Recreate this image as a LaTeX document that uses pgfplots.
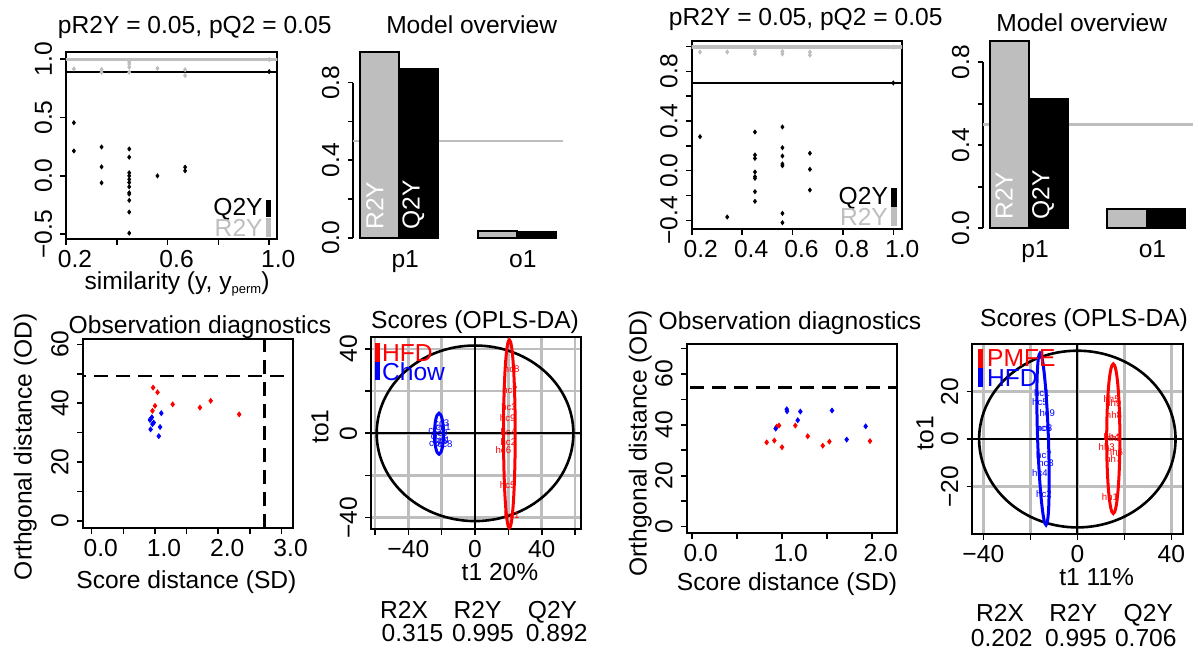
\documentclass[border=0pt]{standalone}
\usepackage{fontspec}
\setmainfont{Liberation Sans}
\usepackage{pgfplots}
\pgfplotsset{compat=1.18}
\usepackage{pgfplotstable}
\definecolor{rgray}{RGB}{190,190,190}
\definecolor{rred}{RGB}{255,0,0}
\definecolor{rblue}{RGB}{0,0,255}
\newcommand\fs{\fontsize{12.3}{14.8}\selectfont}
\newcommand\tfs{\fontsize{4.8}{5.5}\selectfont}
\tikzset{lbl/.style={inner sep=0pt}}

\pgfplotstableread{
x y
0.231 0.455
0.231 0.213
0.340 0.247
0.340 0.077
0.340 -0.060
0.449 0.230
0.449 0.160
0.449 0.026
0.449 0.000
0.449 -0.030
0.449 -0.057
0.449 -0.094
0.449 -0.145
0.449 -0.156
0.449 -0.210
0.449 -0.310
0.449 -0.490
0.560 0.000
0.669 0.074
0.669 0.043
1.000 0.892
}\permQa
\pgfplotstableread{
x y
0.231 0.915
0.340 0.910
0.340 0.886
0.449 0.975
0.449 0.957
0.449 0.930
0.449 0.886
0.560 0.920
0.669 0.909
0.669 0.858
1.000 0.995
}\permRa
\pgfplotstableread{
x y
0.233 0.274
0.341 -0.373
0.451 0.311
0.451 0.126
0.451 0.099
0.451 -0.011
0.451 -0.048
0.451 -0.062
0.451 -0.169
0.451 -0.247
0.560 0.352
0.560 0.185
0.560 0.118
0.560 0.054
0.560 0.040
0.560 -0.344
0.560 -0.419
0.669 0.140
0.669 0.011
0.669 -0.156
1.000 0.706
}\permQb
\pgfplotstableread{
x y
0.233 0.955
0.341 0.955
0.451 0.960
0.451 0.940
0.560 0.960
0.560 0.940
0.669 0.955
0.669 0.930
1.000 0.995
}\permRb
\pgfplotstableread{
x y
0.97 45.3
1.04 43.7
1.00 39.1
0.96 37.4
1.28 39.6
1.71 38.5
1.88 40.8
2.33 36.2
}\diagRa
\pgfplotstableread{
x y
0.93 34.6
0.95 35.2
0.92 34.3
0.98 33.4
0.96 32.9
0.93 31.1
1.10 36.6
1.08 31.9
1.06 28.8
}\diagBa
\pgfplotstableread{
x y
0.833 33.1
0.918 33.8
0.944 39.3
0.970 39.7
1.003 31.2
1.151 39.7
1.289 35.5
1.456 31.8
1.530 33.4
1.981 33.6
}\diagRb
\pgfplotstableread{
x y
0.933 38.5
1.056 46.1
1.059 45.3
1.178 41.8
1.207 45.2
1.559 45.6
1.722 34.2
1.933 39.4
}\diagBb
\pgfplotstableread{
x y lab
22 30.5 hc8
21 20.5 hc7
20.4 12.6 hc3
19.6 7.1 hc9
20 0.8 hc4
20 -4 hc2
17 -7.9 hc6
19.6 -24.5 hc5
22 -38.8 hc1
}\scoreRa
\pgfplotstableread{
x y lab
-20 4.7 cc3
-19 3 cc1
-23.5 1.6 cc2
-21 0 cc9
-22 -1.6 cc7
-20 -3.2 cc4
-23 -4.7 cc6
-18 -5 cc8
-21 -4 cc5
}\scoreBa
\pgfplotstableread{
x y lab
14.6 16.7 hh5
15.3 15 hh9
15.6 10.1 hh8
14.6 0.7 hh4
15.5 0.5 hh2
12.5 -3.2 hh3
16 -5.3 hh6
15.3 -8.5 hh7
13.9 -24.3 hh1
}\scoreRb
\pgfplotstableread{
x y lab
-15.1 19.2 hc1
-15.9 15.5 hc5
-12.8 11.1 hc9
-14.5 4.5 hc6
-14 4.5 hc8
-14.2 -6.7 hc7
-13.3 -10.2 hc3
-15.9 -14.4 hc4
-14.2 -23.3 hc2
}\scoreBb

\pgfplotsset{
  rbase/.style={
    scale only axis,
    anchor=north west,
    axis line style={line width=1.1pt},
    tick align=outside,
    tick pos=left,
    major tick length=2.8pt,
    every tick/.style={line width=0.8pt, black},
    yticklabel style={rotate=90, anchor=south, inner ysep=4pt},
    xticklabel style={yshift=1pt},
  },
  barbase/.style={
    scale only axis,
    anchor=north west,
    clip=false,
    axis y line*=left,
    axis x line*=bottom,
    x axis line style={draw=none},
    y axis line style={line width=1.1pt},
    major x tick style={draw=none},
    tick align=outside,
    major tick length=2.8pt,
    every tick/.style={line width=0.8pt, black},
    xtick={1,4}, xticklabels={p1,o1},
    xticklabel style={xshift=3pt},
    xmin=-0.17, xmax=5.18, ymin=0, ymax=0.8,
    ytick={0,0.2,0.4,0.6,0.8}, yticklabels={0.0,,0.4,,0.8},
    yticklabel style={rotate=90, anchor=south, inner ysep=4pt},
  },
  scorebase/.style={
    rbase,
    grid=major,
    grid style={rgray, line width=1.4pt},
  },
  samplelab/.style={only marks, mark=*, mark size=0.1pt, mark options={opacity=0},
    nodes near coords, point meta=explicit symbolic,
    every node near coord/.style={anchor=center, inner sep=0pt, opacity=1, text opacity=1, text=#1, font=\tfs}},
}

\begin{document}
\begin{tikzpicture}[font=\fs]
\useasboundingbox (0,0) rectangle (599pt,-325.5pt);

% ---------- Panel 1: permutation (left) ----------
\begin{axis}[rbase, at={(33pt,-26pt)}, width=105.65pt, height=93.65pt,
  xmin=0.2, xmax=1.032, ymin=-0.543, ymax=1.06,
  xtick={0.2,0.4,0.6,0.8,1.0}, xticklabels={0.2,,0.6,,1.0},
  xticklabel style={xshift=4.5pt},
  ytick={-0.5,0,0.5,1}, yticklabels={−0.5,0.0,0.5,1.0}]
\addplot[rgray, line width=1.7pt] coordinates {(0,0.995) (2,0.995)};
\addplot[black, line width=1.1pt] coordinates {(0,0.892) (2,0.892)};
\addplot[only marks, mark=diamond*, mark size=1pt, rgray] table {\permRa};
\addplot[only marks, mark=diamond*, mark size=1pt, black] table {\permQa};
\end{axis}
\node[lbl, anchor=base] at (97.35pt,-16.9pt) {pR2Y = 0.05, pQ2 = 0.05};
\node[lbl, anchor=base] at (88.5pt,-144.6pt) {similarity (y, y\raisebox{-0.35ex}{\fontsize{6.5}{7}\selectfont perm})};
\node[lbl, anchor=east] at (131.5pt,-104.5pt) {Q2Y};
\node[lbl, anchor=east, text=rgray] at (131.5pt,-114pt) {R2Y};
\fill[black] (132.85pt,-100pt) rectangle (135.35pt,-108.65pt);
\fill[rgray] (132.85pt,-109.15pt) rectangle (135.35pt,-118.35pt);

% ---------- Panel 2: model overview (left) ----------
\begin{axis}[barbase, at={(176.65pt,-41.35pt)}, width=104.9pt, height=77.5pt]
\addplot[rgray, line width=1.1pt] coordinates {(-0.17,0.5) (5.18,0.5)};
\addplot[ybar, bar width=1, bar shift=0pt, fill=rgray, draw=black, line width=0.9pt] coordinates {(0.5,0.960) (3.5,0.036)};
\addplot[ybar, bar width=1, bar shift=0pt, fill=black, draw=black, line width=0.9pt] coordinates {(1.5,0.871) (4.5,0.028)};
\node[lbl, rotate=90, anchor=west, text=white] at (axis cs:0.38,0.04) {R2Y};
\node[lbl, rotate=90, anchor=west, text=white] at (axis cs:1.36,0.04) {Q2Y};
\end{axis}
\node[lbl, anchor=base] at (235.85pt,-16.67pt) {Model overview};

% ---------- Panel 3: permutation (right) ----------
\begin{axis}[rbase, at={(345.85pt,-20.5pt)}, width=105.15pt, height=94.15pt,
  xmin=0.2, xmax=1.0345, ymin=-0.472, ymax=1.044,
  xtick={0.2,0.4,0.6,0.8,1.0}, xticklabels={0.2,0.4,0.6,0.8,1.0},
  xticklabel style={xshift=4.5pt},
  ytick={-0.4,-0.2,0,0.2,0.4,0.6,0.8,1.0}, yticklabels={−0.4,,0.0,,0.4,,0.8,}]
\addplot[rgray, line width=1.7pt] coordinates {(0,0.995) (2,0.995)};
\addplot[black, line width=1.1pt] coordinates {(0,0.706) (2,0.706)};
\addplot[only marks, mark=diamond*, mark size=1pt, rgray] table {\permRb};
\addplot[only marks, mark=diamond*, mark size=1pt, black] table {\permQb};
\end{axis}
\node[lbl, anchor=base] at (402.85pt,-13pt) {pR2Y = 0.05, pQ2 = 0.05};
\node[lbl, anchor=east] at (444.15pt,-99.15pt) {Q2Y};
\node[lbl, anchor=east, text=rgray] at (444.15pt,-108.35pt) {R2Y};
\fill[black] (445.35pt,-94.15pt) rectangle (448.65pt,-103.35pt);
\fill[rgray] (445.35pt,-103.35pt) rectangle (448.65pt,-113pt);

% ---------- Panel 4: model overview (right) ----------
\begin{axis}[barbase, at={(491.65pt,-31.15pt)}, width=104.65pt, height=83pt]
\addplot[rgray, line width=1.1pt] coordinates {(-0.17,0.5) (5.18,0.5)};
\addplot[ybar, bar width=1, bar shift=0pt, fill=rgray, draw=black, line width=0.9pt] coordinates {(0.5,0.904) (3.5,0.092)};
\addplot[ybar, bar width=1, bar shift=0pt, fill=black, draw=black, line width=0.9pt] coordinates {(1.5,0.623) (4.5,0.092)};
\node[lbl, rotate=90, anchor=west, text=white] at (axis cs:0.36,0.04) {R2Y};
\node[lbl, rotate=90, anchor=west, text=white] at (axis cs:1.36,0.04) {Q2Y};
\end{axis}
\node[lbl, anchor=base] at (540.85pt,-15.85pt) {Model overview};

% ---------- Panel 5: observation diagnostics (left) ----------
\begin{axis}[rbase, at={(41.35pt,-169.65pt)}, width=105.3pt, height=94.5pt,
  xmin=-0.142, xmax=3.185, ymin=-2.5, ymax=61.7,
  xtick={0,0.5,1,1.5,2,2.5,3}, xticklabels={0.0,,1.0,,2.0,,3.0},
  xticklabel style={xshift=4.5pt},
  ytick={0,10,20,30,40,50,60}, yticklabels={0,,20,,40,,60}]
\addplot[black, line width=1.2pt, dash pattern=on 7pt off 4pt] coordinates {(-1,49.3) (4,49.3)};
\addplot[black, line width=1.2pt, dash pattern=on 7pt off 4pt] coordinates {(2.73,-10) (2.73,100)};
\addplot[only marks, mark=diamond*, mark size=1.2pt, rred] table {\diagRa};
\addplot[only marks, mark=diamond*, mark size=1.2pt, rblue] table {\diagBa};
\end{axis}
\node[lbl, anchor=base] at (100pt,-166.65pt) {Observation diagnostics};
\node[lbl, anchor=base] at (93.2pt,-294.15pt) {Score distance (SD)};
\node[lbl, anchor=base, rotate=90] at (15.85pt,-223.35pt) {Orthgonal distance (OD)};

% ---------- Panel 6: scores (left) ----------
\begin{axis}[scorebase, at={(185.5pt,-168.65pt)}, width=104.85pt, height=96pt,
  xmin=-62.4, xmax=63.4, ymin=-45.5, ymax=45.5,
  xtick={-60,-40,-20,0,20,40,60}, xticklabels={,−40,,0,,40,},
  ytick={-40,-20,0,20,40}, yticklabels={−40,,0,,40}]
\addplot[black, line width=1.1pt] coordinates {(0,-100) (0,100)};
\addplot[black, line width=1.1pt] coordinates {(-100,0) (100,0)};
\draw[black, line width=1.3pt] (axis cs:0,0) ellipse [x radius=59, y radius=41.6];
\draw[rred, line width=1.5pt] (axis cs:20.6,-0.3) ellipse [x radius=3.5, y radius=44.6];
\draw[rblue, line width=1.5pt] (axis cs:-21.6,-0.2) ellipse [x radius=2.7, y radius=9.7];
\addplot[samplelab=rred] table[meta=lab] {\scoreRa};
\addplot[samplelab=rblue] table[meta=lab] {\scoreBa};
\end{axis}
\fill[rred] (187.5pt,-171.65pt) rectangle (190pt,-180.85pt);
\fill[rblue] (187.5pt,-180.85pt) rectangle (190pt,-190pt);
\node[lbl, anchor=west, text=rred] at (190.85pt,-176.65pt) {HFD};
\node[lbl, anchor=west, text=rblue] at (190.85pt,-185.85pt) {Chow};
\node[lbl, anchor=base] at (237.5pt,-164.15pt) {Scores (OPLS-DA)};
\node[lbl, anchor=base] at (250pt,-290pt) {t1 20\%};
\node[lbl, anchor=base, rotate=90] at (164.15pt,-213.35pt) {to1};
\node[lbl, anchor=base] at (202pt,-309.15pt) {R2X};
\node[lbl, anchor=base] at (238.75pt,-309.15pt) {R2Y};
\node[lbl, anchor=base] at (276.25pt,-309.15pt) {Q2Y};
\node[lbl, anchor=base] at (206.25pt,-320.85pt) {0.315};
\node[lbl, anchor=base] at (241.5pt,-320.85pt) {0.995};
\node[lbl, anchor=base] at (278.35pt,-320.85pt) {0.892};

% ---------- Panel 7: observation diagnostics (right) ----------
\begin{axis}[rbase, at={(343.35pt,-172.15pt)}, width=105pt, height=94.5pt,
  xmin=-0.056, xmax=2.278, ymin=-2.6, ymax=71.6,
  xtick={0,0.5,1,1.5,2}, xticklabels={0.0,,1.0,,2.0},
  xticklabel style={xshift=4.5pt},
  ytick={0,10,20,30,40,50,60,70}, yticklabels={0,,20,,40,,60,}]
\addplot[black, line width=1.2pt, dash pattern=on 7pt off 4pt] coordinates {(-1,54.7) (4,54.7)};
\addplot[only marks, mark=diamond*, mark size=1.2pt, rred] table {\diagRb};
\addplot[only marks, mark=diamond*, mark size=1.2pt, rblue] table {\diagBb};
\end{axis}
\node[lbl, anchor=base] at (395pt,-165pt) {Observation diagnostics};
\node[lbl, anchor=base] at (393.5pt,-295.35pt) {Score distance (SD)};
\node[lbl, anchor=base, rotate=90] at (323.35pt,-221.7pt) {Orthgonal distance (OD)};

% ---------- Panel 8: scores (right) ----------
\begin{axis}[scorebase, at={(486.15pt,-172.15pt)}, width=105.5pt, height=95pt,
  xmin=-44.7, xmax=45.1, ymin=-40.1, ymax=39.9,
  xtick={-40,-20,0,20,40}, xticklabels={−40,,0,,40},
  ytick={-20,0,20}, yticklabels={−20,0,20}]
\addplot[black, line width=1.1pt] coordinates {(0,-100) (0,100)};
\addplot[black, line width=1.1pt] coordinates {(-100,0) (100,0)};
\draw[black, line width=1.3pt] (axis cs:0,0) ellipse [x radius=41.8, y radius=37.2];
\draw[rred, line width=1.5pt] (axis cs:15.3,0.15) ellipse [x radius=2.8, y radius=31.5];
\draw[rblue, line width=1.5pt, rotate around={2:(axis cs:-14.6,0)}] (axis cs:-14.6,0) ellipse [x radius=2.3, y radius=36.2];
\addplot[samplelab=rred] table[meta=lab] {\scoreRb};
\addplot[samplelab=rblue] table[meta=lab] {\scoreBb};
\end{axis}
\fill[rred] (489.15pt,-174.65pt) rectangle (491.35pt,-184.15pt);
\fill[rblue] (489.15pt,-184.15pt) rectangle (491.35pt,-193.35pt);
\node[lbl, anchor=west, text=rred] at (493.35pt,-179.15pt) {PMFE};
\node[lbl, anchor=west, text=rblue] at (493.35pt,-189.15pt) {HFD};
\node[lbl, anchor=base] at (542pt,-163.35pt) {Scores (OPLS-DA)};
\node[lbl, anchor=base] at (548.35pt,-292.5pt) {t1 11\%};
\node[lbl, anchor=base, rotate=90] at (466.65pt,-216.65pt) {to1};
\node[lbl, anchor=base] at (500pt,-310.85pt) {R2X};
\node[lbl, anchor=base] at (536.65pt,-310.85pt) {R2Y};
\node[lbl, anchor=base] at (574.15pt,-310.85pt) {Q2Y};
\node[lbl, anchor=base] at (500.85pt,-323pt) {0.202};
\node[lbl, anchor=base] at (537.9pt,-323pt) {0.995};
\node[lbl, anchor=base] at (572.9pt,-323pt) {0.706};
\end{tikzpicture}
\end{document}
